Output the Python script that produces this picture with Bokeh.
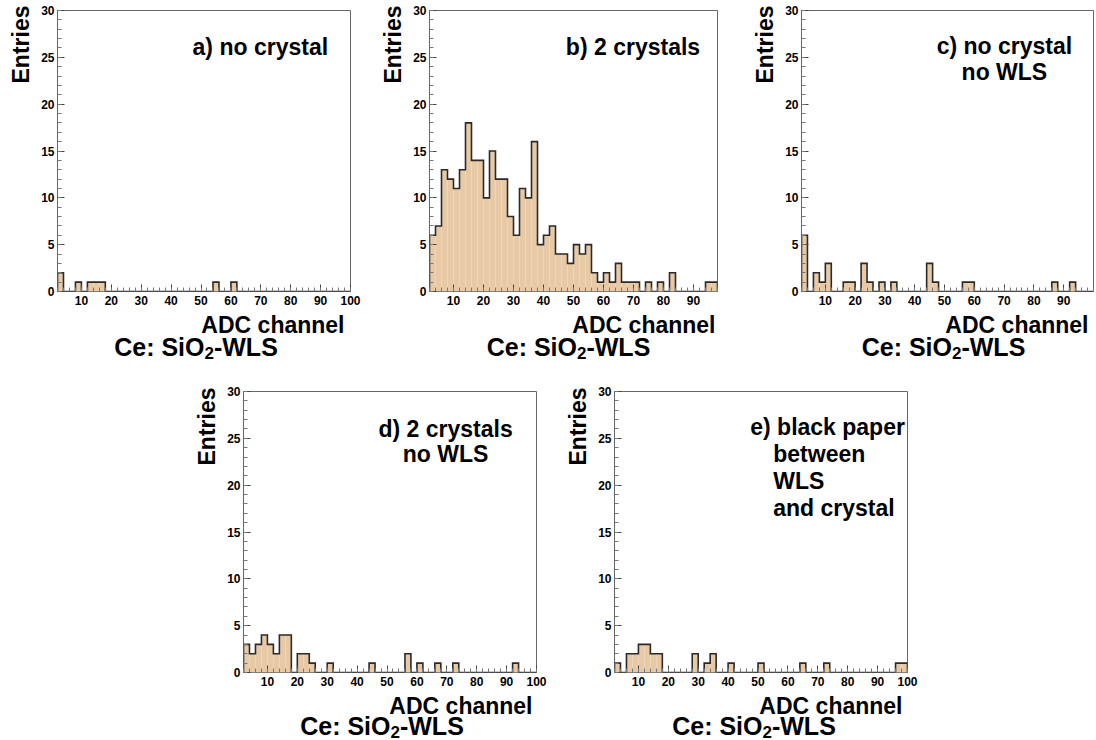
from bokeh.plotting import figure
from bokeh.models import Label, FixedTicker, Range1d, Spacer, Title
from bokeh.layouts import row, column
from bokeh.core.properties import value
from bokeh.embed import file_html
from bokeh.resources import INLINE

# ---------------- data ----------------
bin_start = 2
bin_width = 2
y_major = [0, 5, 10, 15, 20, 25, 30]
y_minor = list(range(0, 31))
x_major_full = [10, 20, 30, 40, 50, 60, 70, 80, 90, 100]
x_major_short = [10, 20, 30, 40, 50, 60, 70, 80, 90]
x_minor = list(range(2, 101, 2))

counts_a = [2, 0, 0, 1, 0, 1, 1, 1, 0, 0,
            0, 0, 0, 0, 0, 0, 0, 0, 0, 0,
            0, 0, 0, 0, 0, 0, 1, 0, 0, 1,
            0, 0, 0, 0, 0, 0, 0, 0, 0, 0,
            0, 0, 0, 0, 0, 0, 0, 0, 0]
counts_b = [6, 7, 13, 12, 11, 13, 18, 14, 14, 10,
            15, 12, 12, 8, 6, 11, 10, 16, 5, 6,
            7, 4, 4, 3, 5, 4, 5, 2, 1, 2,
            1, 3, 1, 1, 1, 0, 1, 0, 1, 0,
            2, 0, 0, 0, 0, 0, 1, 1]
counts_c = [6, 0, 2, 1, 3, 0, 0, 1, 1, 0,
            3, 1, 0, 1, 0, 1, 0, 0, 0, 0,
            0, 3, 1, 0, 0, 0, 0, 1, 1, 0,
            0, 0, 0, 0, 0, 0, 0, 0, 0, 0,
            0, 0, 1, 0, 0, 1, 0, 0, 0]
counts_d = [3, 2, 3, 4, 3, 2, 4, 4, 0, 2,
            2, 1, 0, 0, 1, 0, 0, 0, 0, 0,
            0, 1, 0, 0, 0, 0, 0, 2, 0, 1,
            0, 0, 1, 0, 0, 1, 0, 0, 0, 0,
            0, 0, 0, 0, 0, 1, 0, 0, 0]
counts_e = [1, 0, 2, 2, 3, 3, 2, 2, 0, 0,
            0, 0, 0, 2, 0, 1, 2, 0, 0, 1,
            0, 0, 0, 0, 1, 0, 0, 0, 0, 0,
            0, 1, 0, 0, 0, 1, 0, 0, 0, 0,
            0, 0, 0, 0, 0, 0, 0, 1, 1]

text_a = ["a) no crystal"]
text_b = ["b) 2 crystals"]
text_c = ["c) no crystal", "no WLS"]
text_d = ["d) 2 crystals", "no WLS"]
text_e = ["e) black paper", "between", "WLS", "and crystal"]

x_title = "ADC channel"
y_title = "Entries"
caption_main = "Ce: SiO"
caption_sub = "2"
caption_tail = "-WLS"

# ---------------- style ----------------
FONT = "Liberation Sans"
FILL = "#e8c9a6"
LINE = "#2a2a2a"
FRAME = "#666666"
FH = 281
BB = 30   # bottom border of histogram figures (holds the x tick labels)
X0 = 2


def hist_panel(counts, x_end, xticks, fw, bl, br, bt, lines, ent_off):
    n = len(counts)
    edges = [bin_start + bin_width * i for i in range(n + 1)]
    p = figure(frame_width=fw, frame_height=FH, x_range=Range1d(X0, x_end),
               y_range=Range1d(0, 30), output_backend="svg",
               toolbar_location=None, title=None,
               min_border_left=bl, min_border_right=br,
               min_border_top=bt, min_border_bottom=BB)
    p.background_fill_color = "white"
    p.border_fill_color = "white"
    p.outline_line_color = FRAME
    p.outline_line_width = 1
    p.xgrid.visible = False
    p.ygrid.visible = False

    p.quad(left=edges[:-1], right=edges[1:], bottom=0, top=counts,
           fill_color=FILL, line_color=None)
    xs = [edges[0]]
    ys = [0]
    for k in range(n):
        xs += [edges[k], edges[k + 1]]
        ys += [counts[k], counts[k]]
    xs.append(edges[-1])
    ys.append(0)
    p.line(xs, ys, line_color=LINE, line_width=1.6, line_join="miter")

    for ax, maj, mnr in ((p.xaxis[0], xticks, x_minor), (p.yaxis[0], y_major, y_minor)):
        ax.ticker = FixedTicker(ticks=maj, minor_ticks=mnr)
        ax.axis_line_color = None
        ax.major_tick_in = 7
        ax.major_tick_out = 0
        ax.minor_tick_in = 4
        ax.minor_tick_out = 0
        ax.major_tick_line_color = "#444444"
        ax.minor_tick_line_color = "#777777"
        ax.major_label_text_font = FONT
        ax.major_label_text_font_style = "bold"
        ax.major_label_text_font_size = "12px"
        ax.major_label_text_color = "black"
    p.xaxis[0].major_label_standoff = 4
    p.yaxis[0].major_label_standoff = 3

    for txt, x, dy, align in lines:
        p.add_layout(Label(x=x, y=30, x_units="data", y_units="data", y_offset=-dy,
                           text=txt, text_align=align, text_baseline="alphabetic",
                           text_font=FONT, text_font_style="bold",
                           text_font_size="23px", text_color="black"))

    p.add_layout(Title(text=y_title, align="right", offset=ent_off, standoff=9,
                       text_font=FONT, text_font_style="bold",
                       text_font_size="23px", text_color="black"), "left")
    return p


def caption_panel(x_end, fw, bl, br, h, adc_dx, ce_y, ce_dx):
    # transparent strip pulled up over the histogram's bottom border
    p = figure(frame_width=fw, frame_height=h, x_range=Range1d(X0, x_end),
               y_range=Range1d(-h, 0), output_backend="svg",
               toolbar_location=None, title=None, x_axis_type=None, y_axis_type=None,
               min_border_left=bl, min_border_right=br,
               min_border_top=0, min_border_bottom=0, margin=(-BB, 0, 0, 0))
    p.outline_line_color = None
    p.background_fill_color = None
    p.border_fill_color = None
    common = dict(text_font=value(FONT), text_font_style="bold", text_color="black",
                  text_baseline="alphabetic")
    p.text(x=[x_end], y=[-33], text=[x_title], x_offset=adc_dx,
           text_align="right", text_font_size="23px", **common)
    w1 = 3.612 * 25
    w2 = 0.556 * 17
    w3 = 2.555 * 25
    xc = (X0 + x_end) / 2
    x0 = ce_dx - (w1 + w2 + w3) / 2
    p.text(x=[xc], y=[ce_y], text=[caption_main], x_offset=x0,
           text_align="left", text_font_size="25px", **common)
    p.text(x=[xc], y=[ce_y - 6], text=[caption_sub], x_offset=x0 + w1,
           text_align="left", text_font_size="17px", **common)
    p.text(x=[xc], y=[ce_y], text=[caption_tail], x_offset=x0 + w1 + w2,
           text_align="left", text_font_size="25px", **common)
    return p


# top row: hist 10+281+30 = 321, caption -30+79 -> 370
ha = hist_panel(counts_a, 100, x_major_full, 293, 57, 11, 10,
                [(text_a[0], 92.5, 36, "right")], -5)
ca = caption_panel(100, 293, 57, 11, 79, -6, -55, -8)
hb = hist_panel(counts_b, 98, x_major_short, 288, 68, 23, 10,
                [(text_b[0], 92.2, 36, "right")], -5)
cb = caption_panel(98, 288, 68, 23, 79, -2, -55, -5)
hc = hist_panel(counts_c, 100, x_major_short, 292, 61, 3, 10,
                [(text_c[0], 70.1, 35, "center"), (text_c[1], 70.1, 61, "center")], -5)
cc = caption_panel(100, 292, 61, 3, 79, -5, -55, -4)

# bottom row: hist 21+281+30 = 332, caption -30+68 -> 370
hd = hist_panel(counts_d, 100, x_major_full, 293, 57, 11, 21,
                [(text_d[0], 69.6, 37, "center"), (text_d[1], 69.6, 62, "center")], -4)
cd = caption_panel(100, 293, 57, 11, 68, -4, -53, -8)
he = hist_panel(counts_e, 100, x_major_full, 293, 67, 11, 21,
                [(text_e[0], 47.4, 35, "left"), (text_e[1], 55.1, 62, "left"),
                 (text_e[2], 55.1, 89, "left"), (text_e[3], 55.1, 116, "left")], -4)
ce = caption_panel(100, 293, 67, 11, 68, -5, -53, -7)

layout = column(
    row(column(ha, ca), column(hb, cb), column(hc, cc)),
    row(Spacer(width=186, height=10), column(hd, cd), column(he, ce)),
)

open("out.html", "w").write(file_html(layout, INLINE))
